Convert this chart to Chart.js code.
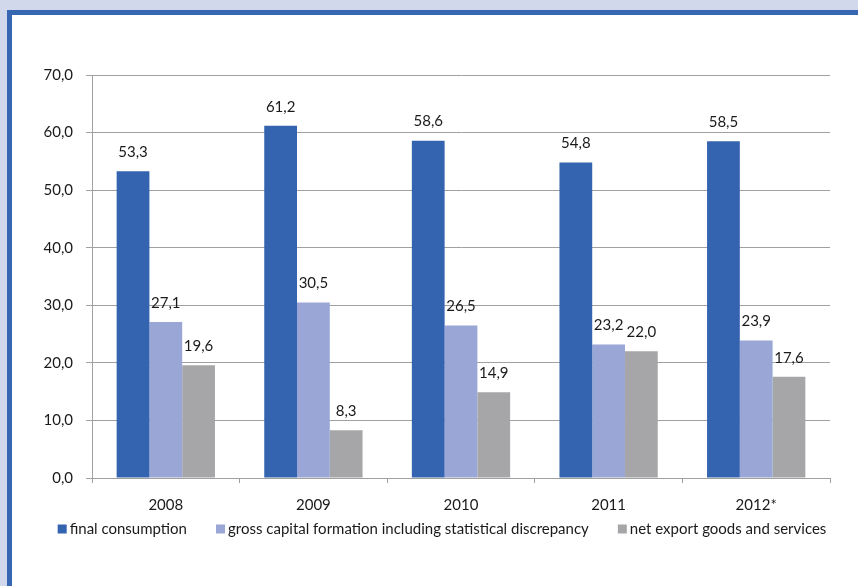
<!DOCTYPE html>
<html><head><meta charset="utf-8">
<script src="https://cdn.jsdelivr.net/npm/chart.js@4"></script>
<style>
html,body{margin:0;padding:0;width:858px;height:586px;overflow:hidden;background:#D2D8EC;}
#frame{position:absolute;left:7px;top:10px;width:870px;height:600px;border-left:5px solid #3766B2;border-top:5px solid #3766B2;background:#fff;}
#wrap{position:absolute;left:12px;top:15px;width:846px;height:571px;}
</style></head>
<body>
<div id="frame"></div>
<div id="wrap"><canvas id="c" width="846" height="571"></canvas></div>
<script>
const years = ['2008','2009','2010','2011','2012*'];
const finalConsumption = [53.3, 61.2, 58.6, 54.8, 58.5];
const grossCapital = [27.1, 30.5, 26.5, 23.2, 23.9];
const netExport = [19.6, 8.3, 14.9, 22.0, 17.6];
const seriesNames = ['final consumption','gross capital formation including statistical discrepancy','net export goods and services'];
const seriesColors = ['#3464B0','#99A6D6','#A6A6A8'];

const FONT = 'Lato, "Noto Sans", sans-serif';
const fmt = v => Number(v).toFixed(1).replace('.', ',');

const labelPlugin = {
  id: 'valLabels',
  afterDatasetsDraw(chart) {
    const ctx = chart.ctx;
    ctx.save();
    ctx.font = '15px ' + FONT;
    ctx.fillStyle = '#1a1a1a';
    ctx.textAlign = 'center';
    ctx.textBaseline = 'middle';
    chart.data.datasets.forEach((ds, i) => {
      chart.getDatasetMeta(i).data.forEach((el, j) => {
        ctx.fillText(fmt(ds.data[j]), el.x, el.y - 19);
      });
    });
    ctx.restore();
  }
};

const legendPlugin = {
  id: 'customLegend',
  afterDraw(chart) {
    const ctx = chart.ctx;
    ctx.save();
    ctx.font = '15px ' + FONT;
    ctx.textBaseline = 'middle';
    const box = 9, gapBT = 3, gapItem = 29;
    const items = chart.data.datasets.map(d => ({label: d.label, color: d.backgroundColor, w: ctx.measureText(d.label).width}));
    let total = 0;
    items.forEach((it, k) => { total += box + gapBT + it.w + (k < items.length - 1 ? gapItem : 0); });
    let x = 430 - total / 2;
    const cy = 514;
    items.forEach(it => {
      ctx.fillStyle = it.color;
      ctx.fillRect(x, cy - 4.5, box, box);
      ctx.fillStyle = '#1a1a1a';
      ctx.textAlign = 'left';
      ctx.fillText(it.label, x + box + gapBT, cy);
      x += box + gapBT + it.w + gapItem;
    });
    ctx.restore();
  }
};

const datasets = [finalConsumption, grossCapital, netExport].map((d, i) => ({
  label: seriesNames[i],
  data: d,
  backgroundColor: seriesColors[i],
  borderWidth: 0,
  categoryPercentage: 0.666,
  barPercentage: 1.0
}));

new Chart(document.getElementById('c'), {
  type: 'bar',
  data: { labels: years, datasets },
  options: {
    responsive: false,
    animation: false,
    devicePixelRatio: 1,
    layout: { padding: { top: 60, right: 28, bottom: 63, left: 0 } },
    plugins: { legend: { display: false }, tooltip: { enabled: false } },
    scales: {
      x: {
        grid: { display: true, drawOnChartArea: false, drawTicks: true, tickLength: 5, color: '#A0A0A0', lineWidth: 1 },
        border: { display: true, color: '#A0A0A0', width: 1 },
        ticks: { font: { family: FONT, size: 15 }, color: '#1a1a1a', padding: 13, maxRotation: 0 },
        afterFit(s) { s.height = 45; }
      },
      y: {
        min: 0, max: 70,
        grid: { color: '#A0A0A0', lineWidth: 1, tickLength: 6 },
        border: { display: true, color: '#A0A0A0', width: 1 },
        ticks: { stepSize: 10, font: { family: FONT, size: 15 }, color: '#1a1a1a', padding: 13, callback: v => fmt(v) },
        afterFit(s) { s.width = 80; }
      }
    }
  },
  plugins: [labelPlugin, legendPlugin]
});
</script>
</body></html>
